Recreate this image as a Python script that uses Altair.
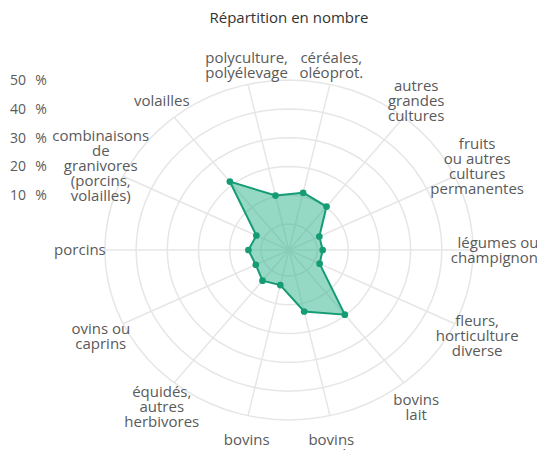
import altair as alt
import pandas as pd

# ---- data ----
categories = ["céréales, oléoprot.", "autres grandes cultures",
              "fruits ou autres cultures permanentes", "légumes ou champignons",
              "fleurs, horticulture diverse", "bovins lait", "bovins viande",
              "bovins mixtes", "équidés, autres herbivores", "ovins ou caprins",
              "porcins", "combinaisons de granivores (porcins, volailles)",
              "volailles", "polyculture, polyélevage"]
label_lines = ["céréales,\noléoprot.", "autres\ngrandes\ncultures",
               "fruits\nou autres\ncultures\npermanentes", "légumes ou\nchampignons",
               "fleurs,\nhorticulture\ndiverse", "bovins\nlait", "bovins\nviande",
               "bovins\nmixtes", "équidés,\nautres\nherbivores", "ovins ou\ncaprins",
               "porcins", "combinaisons\nde\ngranivores\n(porcins,\nvolailles)",
               "volailles", "polyculture,\npolyélevage"]
values = [11.4, 10.3, 1.8, 1.8, 1.9, 19.7, 12.9, 3.5, 4.6, 2.8, 4.0, 2.6, 21.4, 10.4]
ring_values = [0, 10, 20, 30, 40, 50]
tick_labels = ["10\u2002\u2009%", "20\u2002\u2009%", "30\u2002\u2009%",
               "40\u2002\u2009%", "50\u2002\u2009%"]
title_text = "Répartition en nombre"

N = len(categories)
OFFSET = 9      # radial offset of the 0 % ring
OUTER = 59      # outer radius of grid (50 % + offset)
LABEL_RX = 67
LABEL_RY = 68
LINE_H = 15
Y_PX_PER_UNIT = 2.88

ANG = f"PI/2 - (datum.i + 0.5) * 2 * PI / {N}"

df = pd.DataFrame({"i": list(range(N)) + [N], "cat": categories + [categories[0]],
                   "value": values + [values[0]]})
df_pts = df.iloc[:N]
df_lab = pd.DataFrame({"i": range(N), "label": label_lines})
df_rings = pd.DataFrame([(r, s) for r in ring_values for s in range(73)],
                        columns=["ring", "step"])
df_spokes = pd.DataFrame([(i, e) for i in range(N) for e in (0, 1)], columns=["i", "end"])
df_ticks = pd.DataFrame({"ring": ring_values[1:], "t": tick_labels})

xs = alt.Scale(domain=[-90.06, 79.5], zero=False, nice=False)
ys = alt.Scale(domain=[-69.44, 84.03], zero=False, nice=False)
X = alt.X("x:Q", scale=xs, axis=None)
Y = alt.Y("y:Q", scale=ys, axis=None)

GRID = "#e6e6e6"
FONT = "Open Sans"
TXT = "#5a5a5a"

rings = alt.Chart(df_rings).transform_calculate(
    a="datum.step * 5 * PI / 180", r=f"datum.ring + {OFFSET}"
).transform_calculate(
    x="datum.r * cos(datum.a)", y="datum.r * sin(datum.a)"
).mark_line(color=GRID, strokeWidth=1.5).encode(
    x=X, y=Y, detail="ring:N", order="step:Q")

spokes = alt.Chart(df_spokes).transform_calculate(
    a=ANG, r=f"datum.end * {OUTER}"
).transform_calculate(
    x="datum.r * cos(datum.a)", y="datum.r * sin(datum.a)"
).mark_line(color=GRID, strokeWidth=1.5).encode(
    x=X, y=Y, detail="i:N", order="end:Q")

poly = alt.Chart(df).transform_calculate(
    a=ANG, r=f"datum.value + {OFFSET}"
).transform_calculate(
    x="datum.r * cos(datum.a)", y="datum.r * sin(datum.a)"
).mark_line(fill="#2bb38a", fillOpacity=0.5, stroke="#159c75", strokeWidth=2).encode(
    x=X, y=Y, order="i:Q")

pts = alt.Chart(df_pts).transform_calculate(
    a=ANG, r=f"datum.value + {OFFSET}"
).transform_calculate(
    x="datum.r * cos(datum.a)", y="datum.r * sin(datum.a)"
).mark_circle(color="#159c75", size=45, opacity=1).encode(x=X, y=Y)

labs = alt.Chart(df_lab).transform_calculate(
    a=ANG, n="length(split(datum.label, '\\n'))"
).transform_calculate(
    s2="pow(sin(datum.a), 2)"
).transform_calculate(
    x=f"({LABEL_RX} - 7 * pow(datum.s2, 3)) * cos(datum.a)",
    y=(f"{LABEL_RY} * sin(datum.a) + (datum.n - 1) / 2 * {LINE_H} / {Y_PX_PER_UNIT}"
       f" - (-3 + 7 * datum.s2) / {Y_PX_PER_UNIT}")
).mark_text(font=FONT, fontSize=15, color=TXT, lineBreak="\n", dy=3,
            align="center", baseline="middle", lineHeight=LINE_H).encode(
    x=X, y=Y, text="label:N")

ticks = alt.Chart(df_ticks).transform_calculate(
    y=f"datum.ring + {OFFSET}"
).mark_text(font=FONT, fontSize=14, color=TXT, align="left", dy=1,
            baseline="middle").encode(
    x=alt.value(2), y=Y, text="t:N")

title = alt.Chart(pd.DataFrame({"t": [title_text]})).mark_text(
    font=FONT, fontSize=15, color="#333333", align="center", baseline="middle"
).encode(x=alt.value(281), y=alt.value(10), text="t:N")

chart = alt.layer(rings, spokes, poly, pts, labs, ticks, title).properties(
    width=529, height=442, autosize=alt.AutoSizeParams(type="none"),
    padding=0
).configure_view(stroke=None)

chart.save("out.html", embed_options={"renderer": "svg", "actions": False})

# keep the page from scrolling (chart reaches the bottom edge like the reference)
with open("out.html", encoding="utf-8") as f:
    html = f.read()
html = html.replace("<head>", "<head><style>html,body{overflow:hidden}</style>", 1)
with open("out.html", "w", encoding="utf-8") as f:
    f.write(html)
